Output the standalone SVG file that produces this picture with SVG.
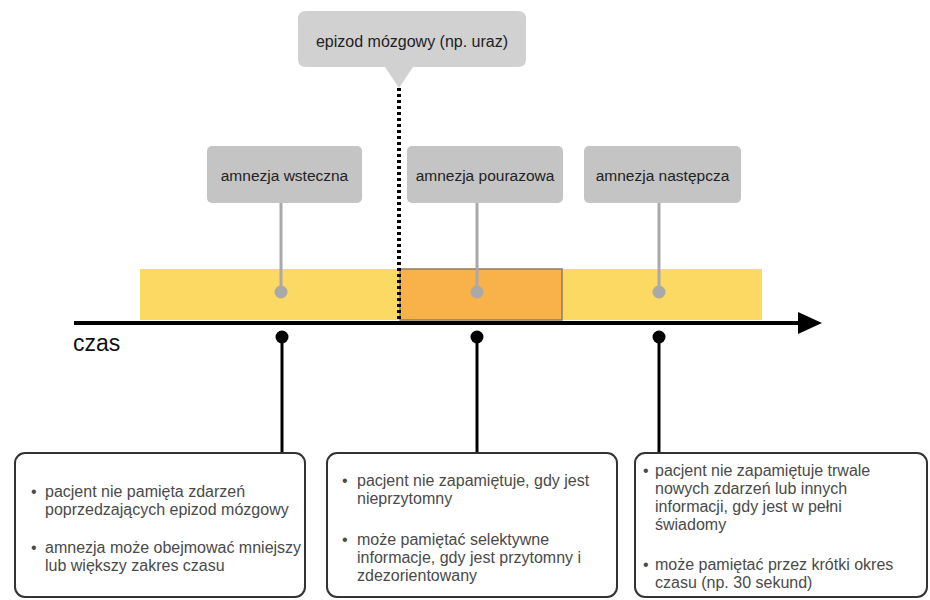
<svg xmlns="http://www.w3.org/2000/svg" width="930" height="600" viewBox="0 0 930 600">
<style>
text{font-family:"Liberation Sans",Arial,Helvetica,sans-serif}
.lbl{fill:#c4c4c4}
.lt{font-size:15.5px;fill:#222;text-anchor:middle}
.stem{stroke:#a9a9a9;stroke-width:3}
.gdot{fill:#a9a9a9}
.bdot{fill:#000}
.conn{stroke:#000;stroke-width:3}
.box{fill:#fff;stroke:#333;stroke-width:2}
.bt{font-size:16px;fill:#4a4a4a}
</style>
<rect width="930" height="600" fill="#fff"/>
<g id="band">
<rect x="140" y="269" width="622" height="51" fill="#fbd962"/>
<rect x="400" y="269" width="162" height="51" fill="#f9b249" stroke="#8f7b5c" stroke-width="1.5"/>
</g>
<g id="event">
<path d="M306 11 H518 Q526 11 526 19 V59 Q526 67 518 67 H413 L399 88 L385 67 H306 Q298 67 298 59 V19 Q298 11 306 11 Z" fill="#d1d1d1"/>
<text x="412" y="47" style="font-size:16px;fill:#222;text-anchor:middle">epizod mózgowy (np. uraz)</text>
</g>
<g id="connectors">
<line x1="399" y1="88" x2="399" y2="320" stroke="#000" stroke-width="4" stroke-dasharray="3 3"/>
<line x1="74" y1="323" x2="800" y2="323" stroke="#000" stroke-width="4"/>
<polygon points="798,312 822,323 798,334" fill="#000"/>
<line class="stem" x1="281" y1="203" x2="281" y2="292"/>
<line class="stem" x1="477" y1="203" x2="477" y2="292"/>
<line class="stem" x1="659" y1="203" x2="659" y2="292"/>
<circle class="gdot" cx="281" cy="292" r="6.5"/>
<circle class="gdot" cx="477" cy="292" r="6.5"/>
<circle class="gdot" cx="659" cy="292" r="6.5"/>
<line class="conn" x1="282" y1="337" x2="282" y2="454"/>
<line class="conn" x1="477" y1="337" x2="477" y2="454"/>
<line class="conn" x1="659" y1="337" x2="659" y2="454"/>
<circle class="bdot" cx="282" cy="337" r="6.5"/>
<circle class="bdot" cx="477" cy="337" r="6.5"/>
<circle class="bdot" cx="659" cy="337" r="6.5"/>
</g>
<text x="73" y="351" style="font-size:23px;fill:#111">czas</text>
<g id="lbl-wsteczna">
<rect class="lbl" x="207" y="146" width="155" height="57" rx="5"/>
<text class="lt" x="284.5" y="181">amnezja wsteczna</text>
</g>
<g id="lbl-pourazowa">
<rect class="lbl" x="407" y="146" width="156" height="57" rx="5"/>
<text class="lt" x="485" y="181">amnezja pourazowa</text>
</g>
<g id="lbl-nastepcza">
<rect class="lbl" x="584" y="146" width="157" height="57" rx="5"/>
<text class="lt" x="662.5" y="181">amnezja następcza</text>
</g>
<g id="box-wsteczna">
<rect class="box" x="15" y="453" width="290" height="144" rx="10"/>
<text class="bt" x="31" y="497">•</text>
<text class="bt" x="45" y="497">pacjent nie pamięta zdarzeń</text>
<text class="bt" x="45" y="515">poprzedzających epizod mózgowy</text>
<text class="bt" x="31" y="553">•</text>
<text class="bt" x="45" y="553">amnezja może obejmować mniejszy</text>
<text class="bt" x="45" y="571">lub większy zakres czasu</text>
</g>
<g id="box-pourazowa">
<rect class="box" x="327" y="453" width="290" height="144" rx="10"/>
<text class="bt" x="342" y="486">•</text>
<text class="bt" x="357" y="486">pacjent nie zapamiętuje, gdy jest</text>
<text class="bt" x="357" y="504">nieprzytomny</text>
<text class="bt" x="342" y="545">•</text>
<text class="bt" x="357" y="545">może pamiętać selektywne</text>
<text class="bt" x="357" y="563">informacje, gdy jest przytomny i</text>
<text class="bt" x="357" y="581">zdezorientowany</text>
</g>
<g id="box-nastepcza">
<rect class="box" x="635" y="453" width="292" height="144" rx="10"/>
<text class="bt" x="643" y="476">•</text>
<text class="bt" x="655" y="476">pacjent nie zapamiętuje trwale</text>
<text class="bt" x="655" y="494">nowych zdarzeń lub innych</text>
<text class="bt" x="655" y="512">informacji, gdy jest w pełni</text>
<text class="bt" x="655" y="530">świadomy</text>
<text class="bt" x="643" y="570">•</text>
<text class="bt" x="655" y="570">może pamiętać przez krótki okres</text>
<text class="bt" x="655" y="588">czasu (np. 30 sekund)</text>
</g>
</svg>
